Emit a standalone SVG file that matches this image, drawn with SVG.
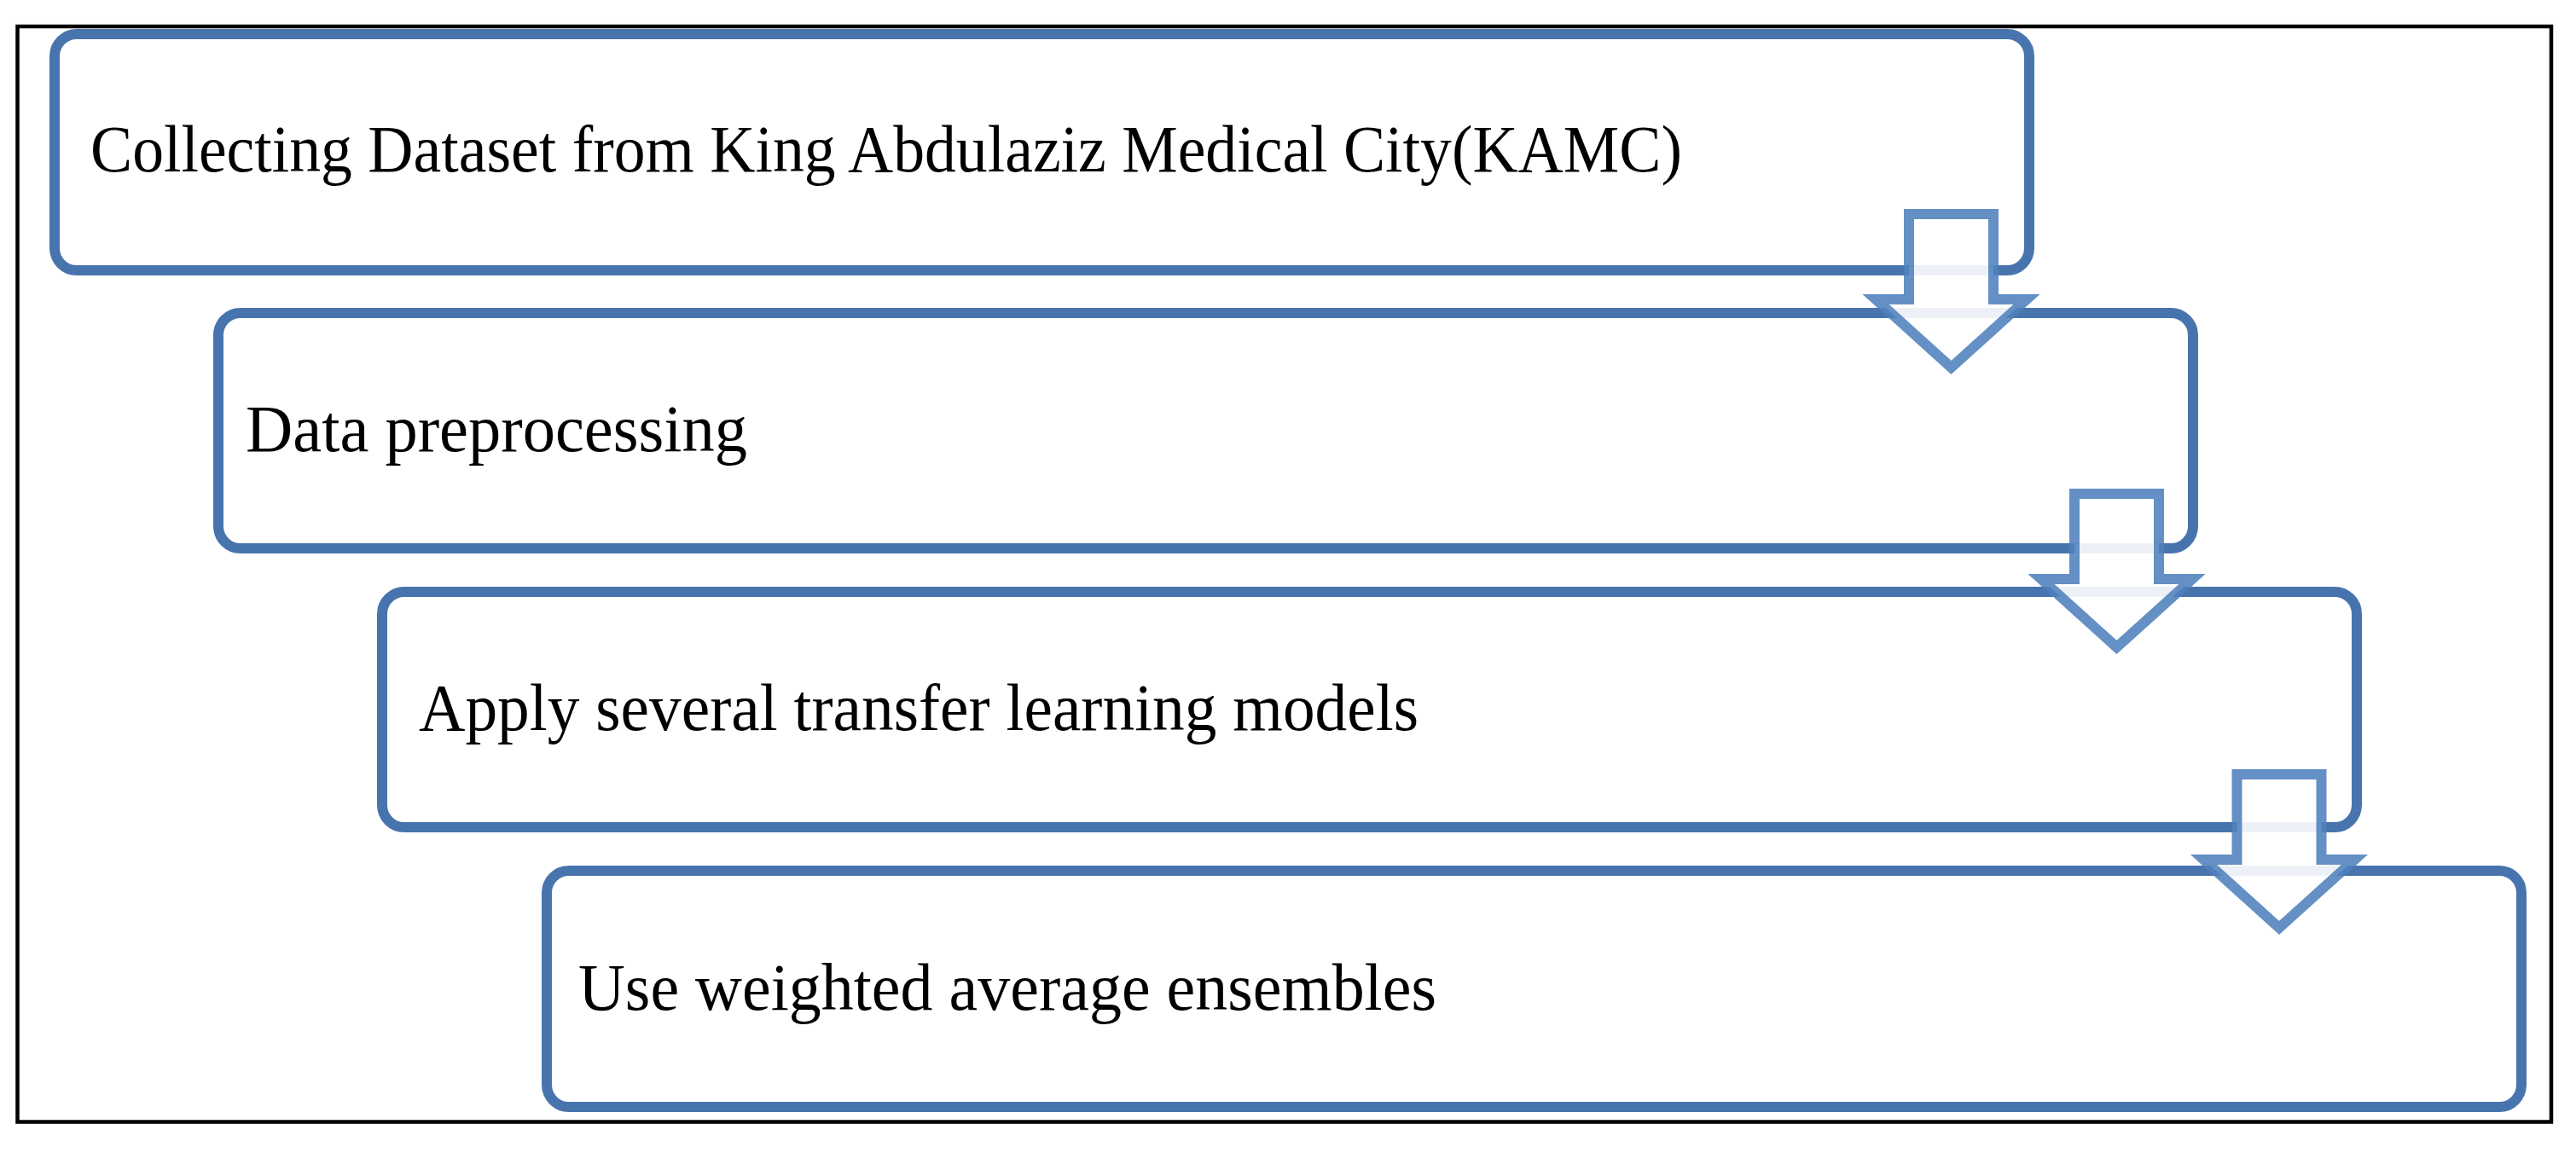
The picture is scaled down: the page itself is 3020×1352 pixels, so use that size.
<svg xmlns="http://www.w3.org/2000/svg" xmlns:xlink="http://www.w3.org/1999/xlink" width="3020" height="1352" viewBox="0 0 3020 1352">
  <style>
    .box { fill: #ffffff; stroke: #4874AD; stroke-width: 12; }
    .lbl { font-family: "Liberation Serif", "Times New Roman", serif; font-size: 78px; fill: #000000; }
    .arrow { fill: #ffffff; fill-opacity: 0.9; stroke: #4F81BD; stroke-opacity: 0.88; stroke-width: 12; stroke-linejoin: miter; stroke-miterlimit: 4; }
  </style>
  <defs>
    <path id="downArrow" d="M -49.5 0 H 49.5 V 100 H 88.5 L 0 180 L -88.5 100 H -49.5 Z"/>
  </defs>
  <rect x="0" y="0" width="3020" height="1352" fill="#ffffff"/>
  <rect id="frame" x="20.5" y="31" width="2970.5" height="1284.5" fill="none" stroke="#000000" stroke-width="4.5"/>

  <g id="node1">
    <rect class="box" x="64" y="40" width="2315" height="277" rx="26" ry="26"/>
    <text class="lbl" x="106" y="201" textLength="1866" lengthAdjust="spacingAndGlyphs">Collecting Dataset from King Abdulaziz Medical City(KAMC)</text>
  </g>
  <g id="node2">
    <rect class="box" x="256" y="367" width="2315" height="276" rx="26" ry="26"/>
    <text class="lbl" x="288" y="528.5" textLength="588" lengthAdjust="spacingAndGlyphs">Data preprocessing</text>
  </g>
  <g id="node3">
    <rect class="box" x="448" y="694" width="2315" height="276" rx="26" ry="26"/>
    <text class="lbl" x="491" y="856" textLength="1172" lengthAdjust="spacingAndGlyphs">Apply several transfer learning models</text>
  </g>
  <g id="node4">
    <rect class="box" x="641" y="1021" width="2315" height="277" rx="26" ry="26"/>
    <text class="lbl" x="678" y="1183.5" textLength="1006" lengthAdjust="spacingAndGlyphs">Use weighted average ensembles</text>
  </g>

  <g id="connectors">
    <use xlink:href="#downArrow" href="#downArrow" class="arrow" transform="translate(2287.5 251)"/>
    <use xlink:href="#downArrow" href="#downArrow" class="arrow" transform="translate(2481.5 579)"/>
    <use xlink:href="#downArrow" href="#downArrow" class="arrow" transform="translate(2672 908)"/>
  </g>
</svg>
